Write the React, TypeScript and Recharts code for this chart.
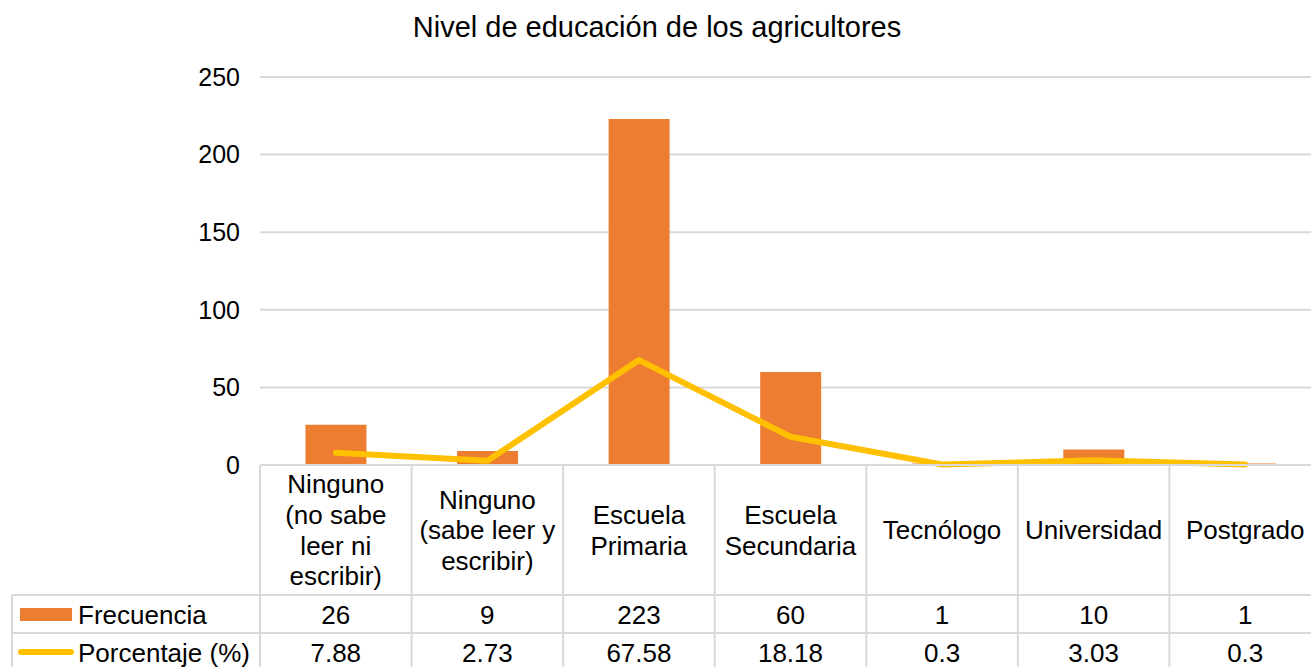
import { ComposedChart, Bar, Line, XAxis, YAxis, CartesianGrid } from 'recharts';

const categoryLines: string[][] = [
  ['Ninguno', '(no sabe', 'leer ni', 'escribir)'],
  ['Ninguno', '(sabe leer y', 'escribir)'],
  ['Escuela', 'Primaria'],
  ['Escuela', 'Secundaria'],
  ['Tecnólogo'],
  ['Universidad'],
  ['Postgrado'],
];
const frecuencia = [26, 9, 223, 60, 1, 10, 1];
const porcentaje = [7.88, 2.73, 67.58, 18.18, 0.3, 3.03, 0.3];
const yTicks = [0, 50, 100, 150, 200, 250];

const data = categoryLines.map((lines, i) => ({
  name: lines.join(' '),
  frecuencia: frecuencia[i],
  porcentaje: porcentaje[i],
}));

const CHART_W = 1321;
const CHART_H = 667;
const AXIS_W = 260;
const BAND = (CHART_W - AXIS_W) / categoryLines.length;
const FONT = '"Liberation Sans", Arial, sans-serif';
const FS = 26;
const GRID = '#D9D9D9';
const ORANGE = '#ED7D31';
const YELLOW = '#FFC000';

function TableTick(props: any) {
  const { x, y, index } = props;
  const left = x - BAND / 2;
  const right = x + BAND / 2;
  const lines = categoryLines[index];
  const lh = 30.7;
  const center = y + 65;
  const first = center - ((lines.length - 1) / 2) * lh;
  const row1 = y + 130;
  const row2 = y + 168;
  return (
    <g fontFamily={FONT} fontSize={FS} fill="#000">
      <line x1={left} x2={right} y1={y} y2={y} stroke={GRID} strokeWidth={2} />
      <line x1={left} x2={right} y1={row1} y2={row1} stroke={GRID} strokeWidth={2} />
      <line x1={left} x2={right} y1={row2} y2={row2} stroke={GRID} strokeWidth={2} />
      <line x1={left} x2={left} y1={y} y2={CHART_H} stroke={GRID} strokeWidth={2} />
      {index === categoryLines.length - 1 && (
        <line x1={right} x2={right} y1={y} y2={CHART_H} stroke={GRID} strokeWidth={2} />
      )}
      {lines.map((t, k) => (
        <text key={k} x={x} y={first + k * lh} dy="0.36em" textAnchor="middle">
          {t}
        </text>
      ))}
      <text x={x} y={y + 150} dy="0.36em" textAnchor="middle">
        {frecuencia[index]}
      </text>
      <text x={x} y={y + 188} dy="0.36em" textAnchor="middle">
        {porcentaje[index]}
      </text>
      {index === 0 && (
        <g>
          <line x1={12} x2={left} y1={row1} y2={row1} stroke={GRID} strokeWidth={2} />
          <line x1={12} x2={left} y1={row2} y2={row2} stroke={GRID} strokeWidth={2} />
          <line x1={12} x2={12} y1={row1} y2={CHART_H} stroke={GRID} strokeWidth={2} />
          <rect x={20} y={y + 143} width={52} height={13} fill={ORANGE} />
          <text x={78} y={y + 150} dy="0.36em">Frecuencia</text>
          <line x1={21} x2={71} y1={y + 187} y2={y + 187} stroke={YELLOW} strokeWidth={6} strokeLinecap="round" />
          <text x={78} y={y + 188} dy="0.36em">Porcentaje (%)</text>
        </g>
      )}
    </g>
  );
}

export default function App() {
  return (
    <div
      style={{
        position: 'absolute',
        left: 0,
        top: 0,
        width: 1311,
        height: 667,
        overflow: 'hidden',
        background: '#fff',
        fontFamily: FONT,
      }}
    >
      <div
        style={{
          position: 'absolute',
          left: 0,
          width: 1314,
          top: 13,
          textAlign: 'center',
          fontSize: 29,
          lineHeight: '29px',
          color: '#000',
        }}
      >
        Nivel de educación de los agricultores
      </div>
      <ComposedChart
        width={CHART_W}
        height={CHART_H}
        data={data}
        margin={{ top: 77, right: 0, bottom: 0, left: 0 }}
        barCategoryGap="30%"
      >
        <CartesianGrid vertical={false} stroke={GRID} strokeWidth={2} />
        <XAxis
          dataKey="name"
          height={CHART_H - 465}
          axisLine={false}
          tickLine={false}
          tickSize={0}
          tickMargin={0}
          interval={0}
          tick={(p: any) => <TableTick {...p} />}
        />
        <YAxis
          width={AXIS_W}
          domain={[0, 250]}
          ticks={yTicks}
          axisLine={false}
          tickLine={false}
          tickSize={0}
          tickMargin={20}
          tick={{ fill: '#000', fontSize: 25, fontFamily: FONT }}
        />
        <Bar dataKey="frecuencia" fill={ORANGE} isAnimationActive={false} />
        <Line
          dataKey="porcentaje"
          stroke={YELLOW}
          strokeWidth={6}
          strokeLinecap="round"
          strokeLinejoin="round"
          dot={false}
          activeDot={false}
          isAnimationActive={false}
        />
      </ComposedChart>
    </div>
  );
}
